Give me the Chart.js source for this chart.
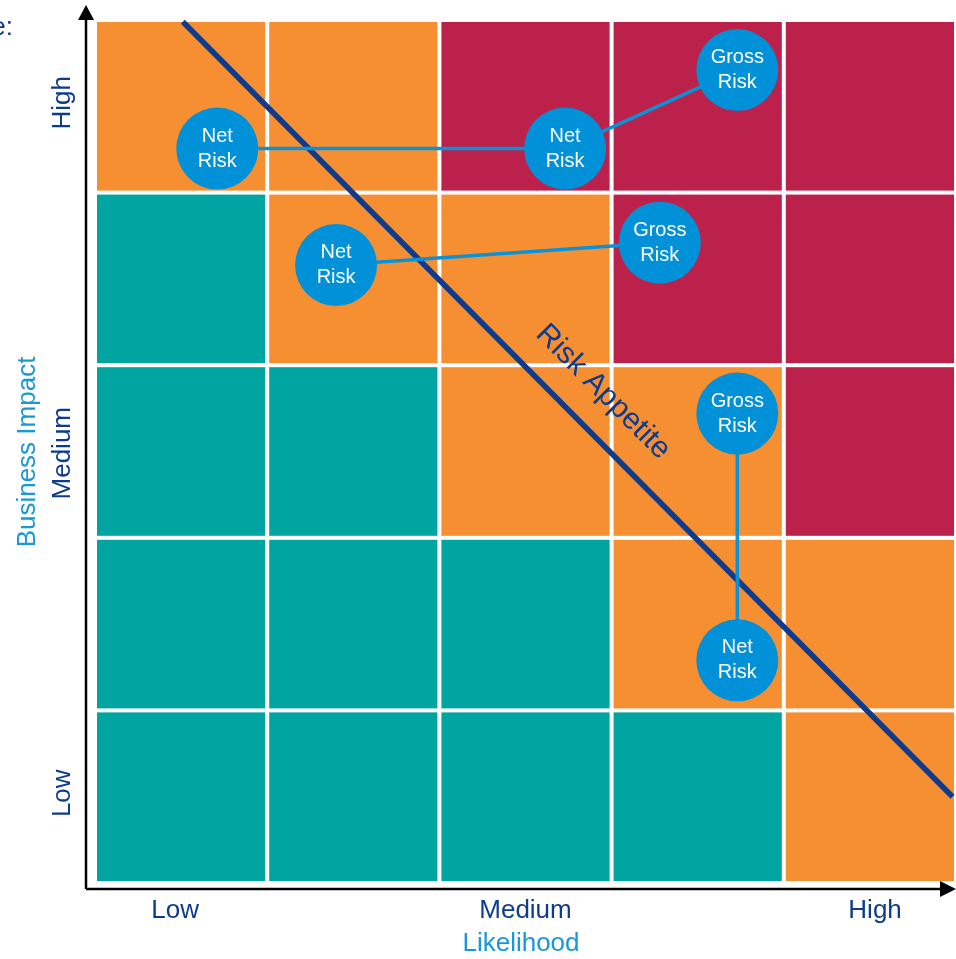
<!DOCTYPE html>
<html>
<head>
<meta charset="utf-8">
<script src="https://cdn.jsdelivr.net/npm/chart.js@4.4.1/dist/chart.umd.min.js"></script>
<style>
html,body{margin:0;padding:0;background:#fff;overflow:hidden;}
#wrap{width:956px;height:959px;position:relative;}
</style>
</head>
<body>
<div id="wrap"><canvas id="c"></canvas></div>
<script>
// ---- data ----
const likelihoodLabels = ['Low', 'Medium', 'High'];
const impactLabels = ['Low', 'Medium', 'High'];
// rows from bottom (impact 1) to top (impact 5), columns likelihood 1..5
const cellRatings = [
  ['L', 'L', 'L', 'L', 'M'],
  ['L', 'L', 'L', 'M', 'M'],
  ['L', 'L', 'M', 'M', 'H'],
  ['L', 'M', 'M', 'H', 'H'],
  ['M', 'M', 'H', 'H', 'H']
];
const riskLabels = ['Net Risk', 'Net Risk', 'Gross Risk', 'Net Risk', 'Gross Risk', 'Gross Risk', 'Net Risk'];
const riskX = [0.71, 2.73, 3.73, 1.40, 3.28, 3.73, 3.73];
const riskY = [4.255, 4.255, 4.71, 3.58, 3.71, 2.72, 1.29];
const riskLinks = [[0, 1, 2], [3, 4], [5, 6]];
const appetiteX = [0.51, 4.98];
const appetiteY = [4.99, 0.50];
const appetiteLabel = 'Risk Appetite';

// ---- style ----
const ratingColor = { L: '#00a5a2', M: '#f58f31', H: '#bc214b' };
const NAVY = '#0d3b8e';
const LIGHT = '#1a97d8';
const DOT = '#0091d8';
const FONT = '"Liberation Sans", Arial, sans-serif';

const datasets = [];
datasets.push({
  label: 'risks',
  data: riskX.map((x, i) => ({ x, y: riskY[i] })),
  showLine: false,
  pointRadius: 41,
  pointHoverRadius: 41,
  pointBackgroundColor: DOT,
  pointBorderWidth: 0,
  clip: false,
  order: 0
});
riskLinks.forEach(link => {
  datasets.push({
    label: 'link',
    data: link.map(i => ({ x: riskX[i], y: riskY[i] })),
    showLine: true,
    borderColor: '#0a92d8',
    borderWidth: 3.5,
    pointRadius: 0,
    clip: false,
    order: 1
  });
});
datasets.push({
  label: 'appetite',
  data: appetiteX.map((x, i) => ({ x, y: appetiteY[i] })),
  showLine: true,
  borderColor: NAVY,
  borderWidth: 5.5,
  pointRadius: 0,
  clip: false,
  order: 2
});

const gridPlugin = {
  id: 'grid',
  beforeDatasetsDraw(chart) {
    const ctx = chart.ctx, xs = chart.scales.x, ys = chart.scales.y;
    cellRatings.forEach((row, r) => {
      row.forEach((rating, c) => {
        const x0 = xs.getPixelForValue(c) + 2, x1 = xs.getPixelForValue(c + 1) - 2;
        const y0 = ys.getPixelForValue(r + 1) + 2, y1 = ys.getPixelForValue(r) - 2;
        ctx.fillStyle = ratingColor[rating];
        ctx.fillRect(x0, y0, x1 - x0, y1 - y0);
      });
    });
  },
  afterDatasetsDraw(chart) {
    const ctx = chart.ctx, xs = chart.scales.x, ys = chart.scales.y;
    ctx.save();
    ctx.fillStyle = '#ffffff';
    ctx.font = '20px ' + FONT;
    ctx.textAlign = 'center';
    ctx.textBaseline = 'middle';
    riskLabels.forEach((lab, i) => {
      const px = xs.getPixelForValue(riskX[i]), py = ys.getPixelForValue(riskY[i]);
      const parts = lab.split(' ');
      ctx.fillText(parts[0], px, py - 12.5);
      ctx.fillText(parts[1], px, py + 12.5);
    });
    // risk appetite label
    ctx.fillStyle = NAVY;
    ctx.font = '30px ' + FONT;
    ctx.translate(xs.getPixelForValue(2.95), ys.getPixelForValue(2.845));
    ctx.rotate(Math.PI / 4);
    ctx.fillText(appetiteLabel, 0, 0);
    ctx.restore();
  },
  afterDraw(chart) {
    const ctx = chart.ctx, xs = chart.scales.x, ys = chart.scales.y;
    const ca = chart.chartArea;
    const ax = ca.left - 9, ay = ca.bottom + 6;
    ctx.save();
    // axes
    ctx.strokeStyle = '#000';
    ctx.fillStyle = '#000';
    ctx.lineWidth = 2.5;
    ctx.beginPath();
    ctx.moveTo(ax, ay); ctx.lineTo(ax, 18);
    ctx.moveTo(ax, ay); ctx.lineTo(942, ay);
    ctx.stroke();
    ctx.beginPath();
    ctx.moveTo(ax, 5); ctx.lineTo(ax - 8, 20); ctx.lineTo(ax + 8, 20); ctx.closePath();
    ctx.fill();
    ctx.beginPath();
    ctx.moveTo(956, ay); ctx.lineTo(940, ay - 8); ctx.lineTo(940, ay + 8); ctx.closePath();
    ctx.fill();

    // x tick labels
    ctx.fillStyle = NAVY;
    ctx.font = '26px ' + FONT;
    ctx.textAlign = 'center';
    ctx.textBaseline = 'middle';
    const xTickPos = [0.465, 2.5, 4.53];
    likelihoodLabels.forEach((t, i) => ctx.fillText(t, xs.getPixelForValue(xTickPos[i]), 911));
    ctx.fillStyle = LIGHT;
    ctx.fillText('Likelihood', 521, 944);

    // y tick labels
    const yTickPos = [0.52, 2.49, 4.52];
    impactLabels.forEach((t, i) => {
      ctx.save();
      ctx.translate(63, ys.getPixelForValue(yTickPos[i]));
      ctx.rotate(-Math.PI / 2);
      ctx.fillStyle = NAVY;
      ctx.fillText(t, 0, 0);
      ctx.restore();
    });
    ctx.save();
    ctx.translate(28, 452);
    ctx.rotate(-Math.PI / 2);
    ctx.fillStyle = LIGHT;
    ctx.fillText('Business Impact', 0, 0);
    ctx.restore();

    // cut-off heading
    ctx.fillStyle = NAVY;
    ctx.textAlign = 'right';
    ctx.textBaseline = 'alphabetic';
    ctx.font = '26px ' + FONT;
    ctx.fillText('Example:', 13, 35);
    ctx.restore();
  }
};

new Chart(document.getElementById('c'), {
  type: 'scatter',
  data: { datasets },
  options: {
    responsive: true,
    maintainAspectRatio: false,
    animation: false,
    events: [],
    layout: { autoPadding: false, padding: { left: 95, right: 0, top: 20, bottom: 76 } },
    scales: {
      x: { type: 'linear', min: 0, max: 5, display: false },
      y: { type: 'linear', min: 0, max: 5, display: false }
    },
    plugins: { legend: { display: false }, tooltip: { enabled: false }, title: { display: false } }
  },
  plugins: [gridPlugin]
});
</script>
</body>
</html>
